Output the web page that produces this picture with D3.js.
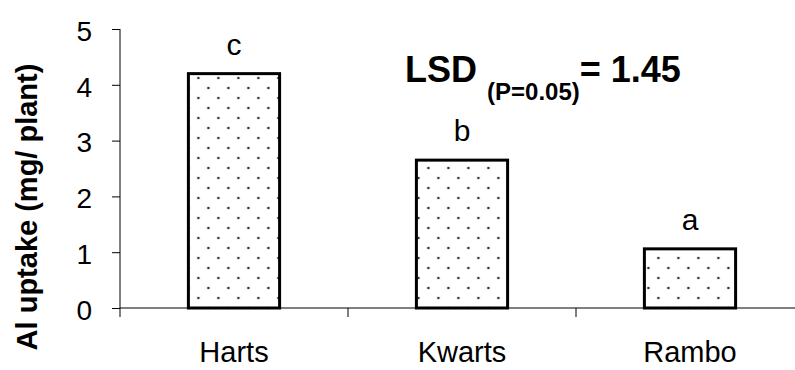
<!DOCTYPE html>
<html>
<head>
<meta charset="utf-8">
<script src="https://cdnjs.cloudflare.com/ajax/libs/d3/7.8.5/d3.min.js"></script>
<style>
  body { margin: 0; background: #fff; }
  text { font-family: Arial, "Liberation Sans", sans-serif; fill: #000; }
</style>
</head>
<body>
<div id="chart"></div>
<script>
const cultivars = ["Harts", "Kwarts", "Rambo"];
const alUptake = [4.2, 2.65, 1.06];
const letters = ["c", "b", "a"];
const yTicks = [0, 1, 2, 3, 4, 5];
const lsdValue = "1.45";
const lsdSub = "(P=0.05)";

const width = 795, height = 370;
const svg = d3.select("#chart").append("svg")
  .attr("width", width)
  .attr("height", height);

const x = d3.scaleBand()
  .domain(cultivars)
  .range([120, 804])
  .paddingInner(0.6)
  .paddingOuter(0.3);

const y = d3.scaleLinear().domain([0, 5]).range([308, 29]);

// dotted fill like the old excel pattern
const defs = svg.append("defs");
const pat = defs.append("pattern")
  .attr("id", "dots")
  .attr("patternUnits", "userSpaceOnUse")
  .attr("width", 20)
  .attr("height", 20)
  .attr("x", x("Harts"))
  .attr("y", y(0));
pat.append("rect").attr("width", 20).attr("height", 20).attr("fill", "#fff");
[[0, 0], [20, 0], [0, 20], [20, 20], [10, 10]].forEach(p => {
  pat.append("circle").attr("cx", p[0]).attr("cy", p[1]).attr("r", 1.3).attr("fill", "#333");
});

// y axis
const yAxis = svg.append("g")
  .attr("transform", "translate(120,0)")
  .call(d3.axisLeft(y).tickValues(yTicks).tickSize(8).tickPadding(20).tickFormat(d3.format("d")));
yAxis.select(".domain").attr("stroke", "#000").attr("d", "M0," + y(5) + "V" + (y(0) + 9));
yAxis.selectAll(".tick line").attr("stroke", "#000");
yAxis.selectAll(".tick text")
  .attr("dy", "0.4em")
  .style("font-family", "Arial, 'Liberation Sans', sans-serif")
  .style("font-size", "28px");

// x axis line, with separator ticks hanging below
const step = x.step();
svg.append("line")
  .attr("x1", 120).attr("x2", width)
  .attr("y1", y(0)).attr("y2", y(0))
  .attr("stroke", "#000");
svg.selectAll(".sep")
  .data(cultivars.slice(1))
  .join("line")
  .attr("x1", d => x(d) - step * 0.3)
  .attr("x2", d => x(d) - step * 0.3)
  .attr("y1", y(0))
  .attr("y2", y(0) + 9)
  .attr("stroke", "#000");

svg.selectAll(".cat")
  .data(cultivars)
  .join("text")
  .attr("x", d => x(d) + x.bandwidth() / 2)
  .attr("y", 362)
  .attr("text-anchor", "middle")
  .style("font-size", "29px")
  .text(d => d);

// bars
svg.selectAll(".bar")
  .data(alUptake)
  .join("rect")
  .attr("x", (d, i) => x(cultivars[i]))
  .attr("y", d => y(d))
  .attr("width", x.bandwidth())
  .attr("height", d => y(0) - y(d))
  .attr("fill", "url(#dots)")
  .attr("stroke", "#000")
  .attr("stroke-width", 3);

svg.selectAll(".letter")
  .data(alUptake)
  .join("text")
  .attr("x", (d, i) => x(cultivars[i]) + x.bandwidth() / 2)
  .attr("y", d => y(d) - 19)
  .attr("text-anchor", "middle")
  .style("font-size", "30px")
  .text((d, i) => letters[i]);

// y label
svg.append("text")
  .attr("transform", "translate(37,207) rotate(-90)")
  .attr("text-anchor", "middle")
  .style("font-size", "29px")
  .style("font-weight", "bold")
  .text("Al uptake (mg/ plant)");

// LSD note
const lsd = svg.append("text")
  .attr("x", 405)
  .attr("y", 82)
  .style("font-weight", "bold")
  .style("font-size", "36px");
lsd.append("tspan").text("LSD ");
lsd.append("tspan").attr("dy", 18).style("font-size", "24px").text(lsdSub);
lsd.append("tspan").attr("dy", -18).text("= " + lsdValue);
</script>
</body>
</html>
